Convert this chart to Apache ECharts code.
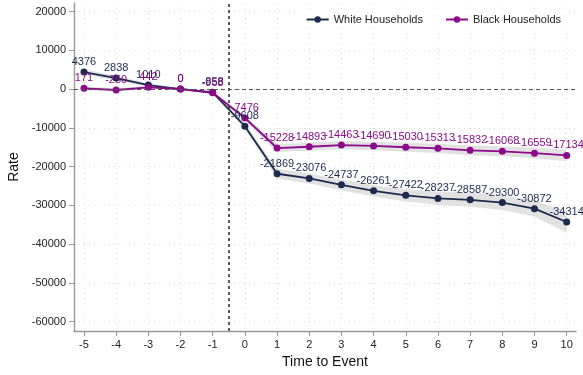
<!DOCTYPE html>
<html>
<head>
<meta charset="utf-8">
<script src="https://cdn.jsdelivr.net/npm/echarts@6/dist/echarts.min.js"></script>
<style>
  html, body { margin: 0; padding: 0; background: #fff; }
  #chart { width: 583px; height: 375px; }
</style>
</head>
<body>
<div id="chart"></div>
<script>
// time to event
var periods = [-5, -4, -3, -2, -1, 0, 1, 2, 3, 4, 5, 6, 7, 8, 9, 10]
var whiteRate = [4376, 2838, 1010, 0, -858, -9608, -21869, -23076, -24737, -26261, -27422, -28237, -28587, -29300, -30872, -34314]
var blackRate = [171, -250, 442, 0, -958, -7476, -15228, -14893, -14463, -14690, -15030, -15313, -15832, -16068, -16559, -17134]
// confidence bands
var whiteHi = [5076, 3438, 1510, 0, -458, -8808, -20569, -21776, -23337, -24761, -25822, -26537, -26787, -27400, -28772, -31614]
var whiteLo = [3676, 2238, 510, 0, -1258, -10408, -23169, -24376, -26137, -27761, -29022, -29937, -30387, -31200, -32972, -37014]
var blackHi = [671, 200, 842, 0, -558, -6776, -14228, -13893, -13413, -13590, -13880, -14113, -14582, -14768, -15159, -15634]
var blackLo = [-329, -700, 42, 0, -1358, -8176, -16228, -15893, -15513, -15790, -16180, -16513, -17082, -17368, -17959, -18634]
var yTicks = [20000, 10000, 0, -10000, -20000, -30000, -40000, -50000, -60000]
var xTicks = [-5, -4, -3, -2, -1, 0, 1, 2, 3, 4, 5, 6, 7, 8, 9, 10]
var legendData = ['White Households', 'Black Households']
var color = ['#1c2a4e', '#8a0a8a']

var myChart = echarts.init(document.getElementById('chart'))

function pairs(ys) {
  return periods.map(function(x, i) { return [x, ys[i]] })
}

function band(lo, hi) {
  return {
    type: 'custom',
    z: 1,
    silent: true,
    data: [[periods[0], hi[0]]],
    renderItem: function(params, api) {
      var pts = []
      periods.forEach(function(x, i) { pts.push(api.coord([x, hi[i]])) })
      for (var i = periods.length - 1; i >= 0; i--) pts.push(api.coord([periods[i], lo[i]]))
      return {
        type: 'polygon',
        shape: { points: pts },
        style: { fill: 'rgba(210,210,210,0.65)' }
      }
    }
  }
}

function lineSeries(idx, ys) {
  return {
    name: legendData[idx],
    type: 'line',
    z: 3,
    data: pairs(ys),
    symbol: 'circle',
    symbolSize: 7,
    lineStyle: { color: color[idx], width: 1.8 },
    itemStyle: { color: color[idx] },
    label: {
      show: true,
      position: 'top',
      distance: 1,
      color: color[idx],
      fontSize: 11,
      fontFamily: 'Liberation Sans',
      formatter: function(p) { return p.value[1] }
    },
    animation: false
  }
}

var white = lineSeries(0, whiteRate)
white.markLine = {
  silent: true,
  symbol: 'none',
  label: { show: false },
  data: [
    { xAxis: -0.5, lineStyle: { color: '#333', type: [3, 3], width: 1.6 } },
    { yAxis: 0, lineStyle: { color: '#555', type: [4, 3], width: 1 } }
  ]
}

var option = {
  animation: false,
  textStyle: { fontFamily: 'Liberation Sans' },
  grid: { left: 74, right: 7, top: 3, bottom: 44, outerBoundsMode: 'none', containLabel: false },
  legend: {
    data: legendData,
    right: 14,
    top: 11,
    itemGap: 22,
    itemWidth: 22,
    itemHeight: 8,
    backgroundColor: '#fff',
    padding: [3, 8],
    textStyle: { fontSize: 11, color: '#222' }
  },
  xAxis: {
    type: 'value',
    min: -5.31,
    max: 10.29,
    name: 'Time to Event',
    nameLocation: 'middle',
    nameGap: 24,
    nameTextStyle: { fontSize: 14, color: '#111' },
    axisLine: { onZero: false, lineStyle: { color: '#999', width: 1.4 } },
    axisTick: { customValues: xTicks, length: 5, lineStyle: { color: '#999' } },
    axisLabel: { customValues: xTicks, fontSize: 11, color: '#222', margin: 8 },
    splitLine: { show: true, lineStyle: { color: '#ddd', type: [1, 4] } }
  },
  yAxis: {
    type: 'value',
    min: -62450,
    max: 22200,
    name: 'Rate',
    nameLocation: 'middle',
    nameGap: 52,
    nameTextStyle: { fontSize: 14, color: '#111' },
    axisLine: { show: true, onZero: false, lineStyle: { color: '#999', width: 1.4 } },
    axisTick: { show: true, customValues: yTicks, length: 5, lineStyle: { color: '#999' } },
    axisLabel: {
      customValues: yTicks, fontSize: 11, color: '#222', margin: 8,
      formatter: function(v) { return String(v) }
    },
    splitLine: { show: true, lineStyle: { color: '#ddd', type: [1, 4] } }
  },
  series: [
    band(whiteLo, whiteHi),
    band(blackLo, blackHi),
    white,
    lineSeries(1, blackRate)
  ]
}
myChart.setOption(option)
</script>
</body>
</html>
